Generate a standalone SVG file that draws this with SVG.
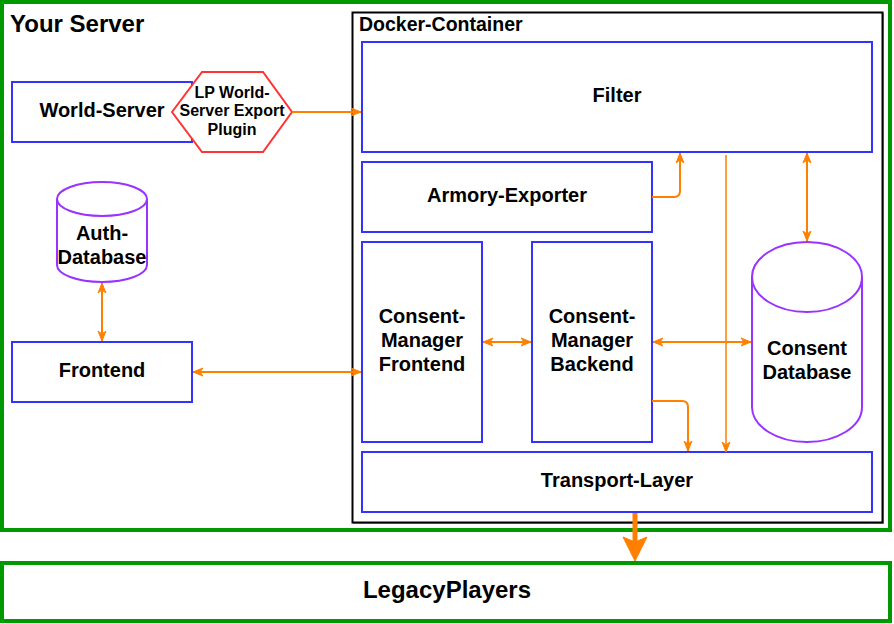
<svg xmlns="http://www.w3.org/2000/svg" width="894" height="624" viewBox="0 0 894 624">
<style>
text{font-family:"Liberation Sans",Arial,sans-serif;font-weight:bold;fill:#000;text-anchor:middle}
.box{fill:#fff;stroke:#3333FF;stroke-width:2}
.db{fill:#fff;stroke:#9933FF;stroke-width:2}
.green{fill:#fff;stroke:#009900;stroke-width:4}
.edge{fill:none;stroke:#FF8000;stroke-width:2}
.n{font-size:20px}
</style>
<defs>
<marker id="ah" viewBox="0 0 10 10" refX="10" refY="5" markerWidth="10" markerHeight="10" markerUnits="userSpaceOnUse" orient="auto-start-reverse">
<path d="M0,1 L10,5 L0,9 L3,5 Z" fill="#FF8000" stroke="#FF8000" stroke-width="1"/>
</marker>
</defs>

<g id="your-server">
<rect class="green" x="2" y="2" width="888" height="528"/>
<text x="10" y="32" style="font-size:24px;text-anchor:start">Your Server</text>
</g>

<g id="legacyplayers">
<rect class="green" x="2" y="563" width="888" height="58"/>
<text x="447" y="598" style="font-size:24px">LegacyPlayers</text>
</g>

<g id="docker-container">
<rect x="353.5" y="13.5" width="530" height="510" fill="none" stroke="#999" stroke-width="1"/>
<rect x="352.5" y="12.5" width="530" height="510" fill="#fff" stroke="#000" stroke-width="2"/>
<text x="359" y="31" style="font-size:19.5px;text-anchor:start">Docker-Container</text>
</g>

<g id="filter">
<rect class="box" x="362" y="42" width="510" height="110"/>
<text class="n" x="617" y="102">Filter</text>
</g>

<g id="armory-exporter">
<rect class="box" x="362" y="162" width="290" height="70"/>
<text class="n" x="507" y="202">Armory-Exporter</text>
</g>

<g id="cm-frontend">
<rect class="box" x="362" y="242" width="120" height="200"/>
<text class="n" x="422" y="323">Consent-</text>
<text class="n" x="422" y="347">Manager</text>
<text class="n" x="422" y="371">Frontend</text>
</g>

<g id="cm-backend">
<rect class="box" x="532" y="242" width="120" height="200"/>
<text class="n" x="592" y="323">Consent-</text>
<text class="n" x="592" y="347">Manager</text>
<text class="n" x="592" y="371">Backend</text>
</g>

<g id="consent-db">
<path class="db" d="M752,277 A55,35 0 0 1 862,277 L862,407 A55,35 0 0 1 752,407 Z"/>
<path class="db" fill="none" d="M752,277 A55,35 0 0 0 862,277"/>
<text class="n" x="807" y="355">Consent</text>
<text class="n" x="807" y="379">Database</text>
</g>

<g id="transport-layer">
<rect class="box" x="362" y="452" width="510" height="60"/>
<text class="n" x="617" y="487">Transport-Layer</text>
</g>

<g id="world-server">
<rect class="box" x="12" y="82" width="180" height="60"/>
<text class="n" x="102" y="117">World-Server</text>
</g>

<g id="lp-plugin">
<polygon points="172,112 202,72 263,72 292,112 263,152 202,152" fill="#fff" stroke="#FF3333" stroke-width="2"/>
<text x="232" y="98" style="font-size:16px">LP World-</text>
<text x="232" y="116" style="font-size:16px">Server Export</text>
<text x="232" y="135" style="font-size:16px">Plugin</text>
</g>

<g id="auth-db">
<path class="db" d="M57,199 A45,17 0 0 1 147,199 L147,265 A45,17 0 0 1 57,265 Z"/>
<path class="db" fill="none" d="M57,199 A45,17 0 0 0 147,199"/>
<text class="n" x="102" y="240">Auth-</text>
<text class="n" x="102" y="264">Database</text>
</g>

<g id="frontend">
<rect class="box" x="12" y="342" width="180" height="60"/>
<text class="n" x="102" y="377">Frontend</text>
</g>

<g id="connectors">
<path class="edge" d="M292,112 L361,112" marker-end="url(#ah)"/>
<path class="edge" d="M652,197 L674,197 Q680,197 680,191 L680,153" marker-end="url(#ah)"/>
<path class="edge" style="stroke-width:1.5" d="M726,155 L726,452" marker-end="url(#ah)"/>
<path class="edge" d="M807,153 L807,241" marker-start="url(#ah)" marker-end="url(#ah)"/>
<path class="edge" d="M483,342 L531,342" marker-start="url(#ah)" marker-end="url(#ah)"/>
<path class="edge" d="M653,342 L751,342" marker-start="url(#ah)" marker-end="url(#ah)"/>
<path class="edge" d="M652,401 L682,401 Q688,401 688,407 L688,451" marker-end="url(#ah)"/>
<path class="edge" d="M102,283 L102,341" marker-start="url(#ah)" marker-end="url(#ah)"/>
<path class="edge" d="M193,372 L361,372" marker-start="url(#ah)" marker-end="url(#ah)"/>
<path class="edge" style="stroke-width:5" d="M635,513 L635,542"/>
<path d="M623,537 L635,542 L647,537 L635,561 Z" fill="#FF8000" stroke="#FF8000" stroke-width="1"/>
</g>
</svg>
